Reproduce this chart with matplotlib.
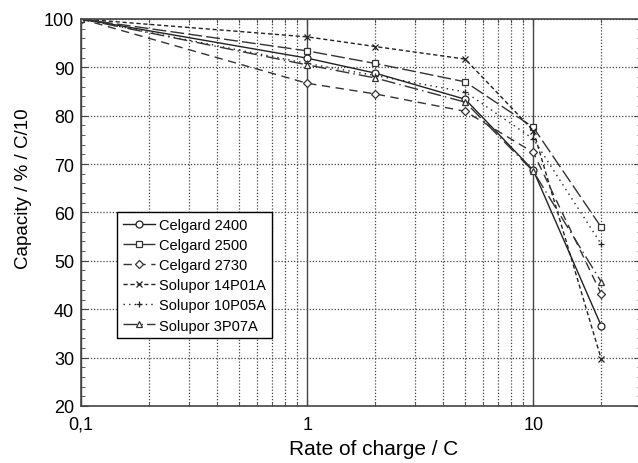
import matplotlib.pyplot as plt
from matplotlib.ticker import FixedLocator, FixedFormatter, MultipleLocator, NullFormatter

plt.rcParams['font.family'] = ['Liberation Sans', 'DejaVu Sans']

rate = [0.1, 1, 2, 5, 10, 20]
celgard_2400 = [100, 91.9, 88.8, 83.4, 68.7, 36.5]
celgard_2500 = [100, 93.4, 90.8, 87.0, 77.6, 56.9]
celgard_2730 = [100, 86.7, 84.5, 80.9, 72.4, 43.1]
solupor_14p01a = [100, 96.3, 94.3, 91.7, 76.9, 29.6]
solupor_10p05a = [100, 90.8, 88.3, 84.9, 75.2, 53.4]
solupor_3p07a = [100, 90.5, 87.8, 82.8, 68.5, 45.6]

labels = ["Celgard 2400", "Celgard 2500", "Celgard 2730",
          "Solupor 14P01A", "Solupor 10P05A", "Solupor 3P07A"]
series = [celgard_2400, celgard_2500, celgard_2730,
          solupor_14p01a, solupor_10p05a, solupor_3p07a]
styles = [("-", "o", "#222222"),
          ((0, (10, 3)), "s", "#333333"),
          ((0, (6, 4)), "D", "#333333"),
          ((0, (3, 2)), "x", "#222222"),
          ((0, (1, 3)), "+", "#222222"),
          ((0, (10, 3, 1, 3)), "^", "#333333")]

fig = plt.figure(figsize=(6.38, 4.64), dpi=100)
ax = fig.add_axes([0.127, 0.123, 0.878, 0.834])

for vals, lab, (ls, mk, col) in zip(series, labels, styles):
    ms = 4 if mk == "D" else 5
    ax.plot(rate, vals, linestyle=ls, marker=mk, color=col, lw=1.0,
            markersize=ms, markerfacecolor="white", markeredgewidth=0.9,
            label=lab)

ax.set_xscale("log")
ax.set_xlim(0.1, 30)
ax.set_ylim(20, 100)

ax.xaxis.set_major_locator(FixedLocator([0.1, 1, 10]))
ax.xaxis.set_major_formatter(FixedFormatter(["0,1", "1", "10"]))
minor_x = [m * d for d in (0.1, 1, 10) for m in range(2, 10) if m * d <= 30]
ax.xaxis.set_minor_locator(FixedLocator(minor_x))
ax.xaxis.set_minor_formatter(NullFormatter())
ax.yaxis.set_major_locator(MultipleLocator(10))
ax.yaxis.set_minor_locator(MultipleLocator(2))

ax.tick_params(which="both", direction="in", top=True, right=True,
               labelsize=13, color="#444444")
ax.tick_params(which="major", length=5)
ax.tick_params(which="minor", length=3)
ax.tick_params(axis="x", which="major", pad=7)
ax.tick_params(axis="y", which="major", pad=5)

ax.grid(True, which="major", axis="x", color="#444444", lw=1.0, ls="-")
ax.grid(True, which="minor", axis="x", color="#444444", lw=0.9, ls=(0, (1, 1.5)))
ax.grid(True, which="major", axis="y", color="#444444", lw=0.9, ls=(0, (1, 1.5)))

for s in ax.spines.values():
    s.set_color("#444444")
    s.set_linewidth(1.2)

ax.set_xlabel("Rate of charge / C", fontsize=15, labelpad=5)
ax.xaxis.set_label_coords(0.523, -0.085)
ax.set_ylabel("Capacity / % / C/10", fontsize=13.5, labelpad=7)
ax.yaxis.set_label_coords(-0.088, 0.565)

leg = ax.legend(loc="upper left", bbox_to_anchor=(0.064, 0.501), fontsize=10.5,
                fancybox=False, framealpha=1, edgecolor="black",
                handlelength=2.2, handletextpad=0.3, labelspacing=0.42,
                borderpad=0.4, borderaxespad=0)
leg.get_frame().set_linewidth(1.0)

fig.savefig("out.png", dpi=100)
